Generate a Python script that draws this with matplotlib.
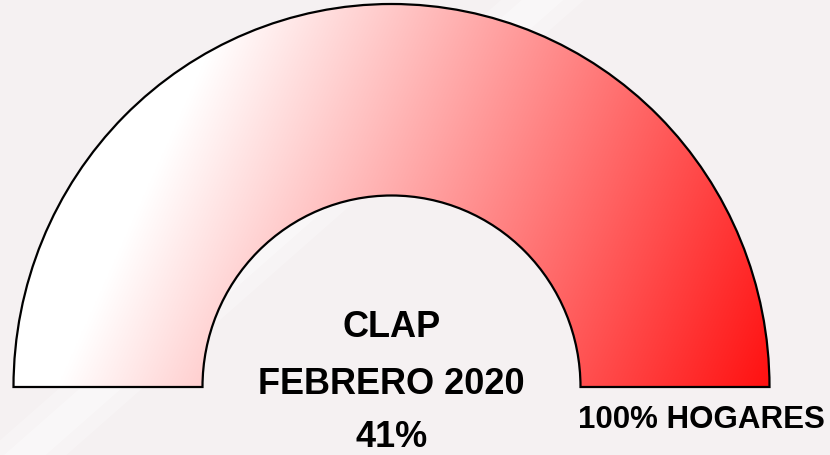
import numpy as np
import matplotlib
matplotlib.use("Agg")
import matplotlib.pyplot as plt
from matplotlib.patches import Wedge, Polygon

# datos del indicador
titulo = "CLAP"
periodo = "FEBRERO 2020"
porcentaje_texto = "41%"
valor_lleno = 100          # porcentaje de la escala que se pinta
etiqueta_max = "100% HOGARES"

radio_ext = 1.0
radio_int = 0.5

color_fondo = "#f5f1f2"

plt.rcParams['font.family'] = ['Liberation Sans', 'DejaVu Sans']

fig = plt.figure(figsize=(8.3, 4.56), dpi=100, facecolor=color_fondo)
ax = fig.add_axes([0, 0, 1, 1])
ax.set_facecolor(color_fondo)

# escala: 378 px por unidad en x, 383 px en y; centro en (391.5, 388) px
ax.set_xlim(-391.5 / 378, (830 - 391.5) / 378)
ax.set_ylim(-(456 - 388) / 383, 388 / 383)
ax.axis("off")

# franja clara diagonal del fondo (detras del indicador)
for ancho, alfa in [(0.05, 0.25), (0.025, 0.35)]:
    banda = Polygon([[0.655 - ancho, 1.0], [0.655 + ancho, 1.0],
                     [0.03 + ancho, 0.0], [0.03 - ancho, 0.0]],
                    closed=True, transform=fig.transFigure, facecolor="white",
                    edgecolor="none", alpha=alfa, zorder=0)
    ax.add_patch(banda)

theta_fin = 180 - 180 * valor_lleno / 100
anillo = Wedge((0, 0), radio_ext, theta_fin, 180, width=radio_ext - radio_int,
               facecolor="none", edgecolor="black", linewidth=1.6, zorder=3)
ax.add_patch(anillo)

# degradado blanco -> rojo en diagonal
u = np.linspace(-1, 1, 600)
v = np.linspace(0, 1, 300)
U, V = np.meshgrid(u, v)
px = 391.5 + 378 * U
py = 388 - 383 * V
t = np.clip((px + 0.45 * py - 232) / 760, 0, 1)
img = np.ones((len(v), len(u), 3))
img[..., 1] = 1 - t
img[..., 2] = 1 - t
fondo_anillo = ax.imshow(img, extent=[-1, 1, 0, 1], origin="lower",
                         aspect="auto", zorder=2, interpolation="bilinear")
clip = Wedge((0, 0), radio_ext, theta_fin, 180, width=radio_ext - radio_int,
             transform=ax.transData)
fondo_anillo.set_clip_path(clip)

ax.text(0, 0.159, titulo, ha="center", va="center", fontsize=26,
        fontweight="bold", zorder=4)
ax.text(0, 0.008, periodo, ha="center", va="center", fontsize=26,
        fontweight="bold", zorder=4)
ax.text(0, -0.128, porcentaje_texto, ha="center", va="center", fontsize=26,
        fontweight="bold", zorder=4)
ax.text(0.819, -0.084, etiqueta_max, ha="center", va="center", fontsize=22.5,
        fontweight="bold", zorder=4)

fig.savefig("out.png", dpi=100, facecolor=color_fondo)
